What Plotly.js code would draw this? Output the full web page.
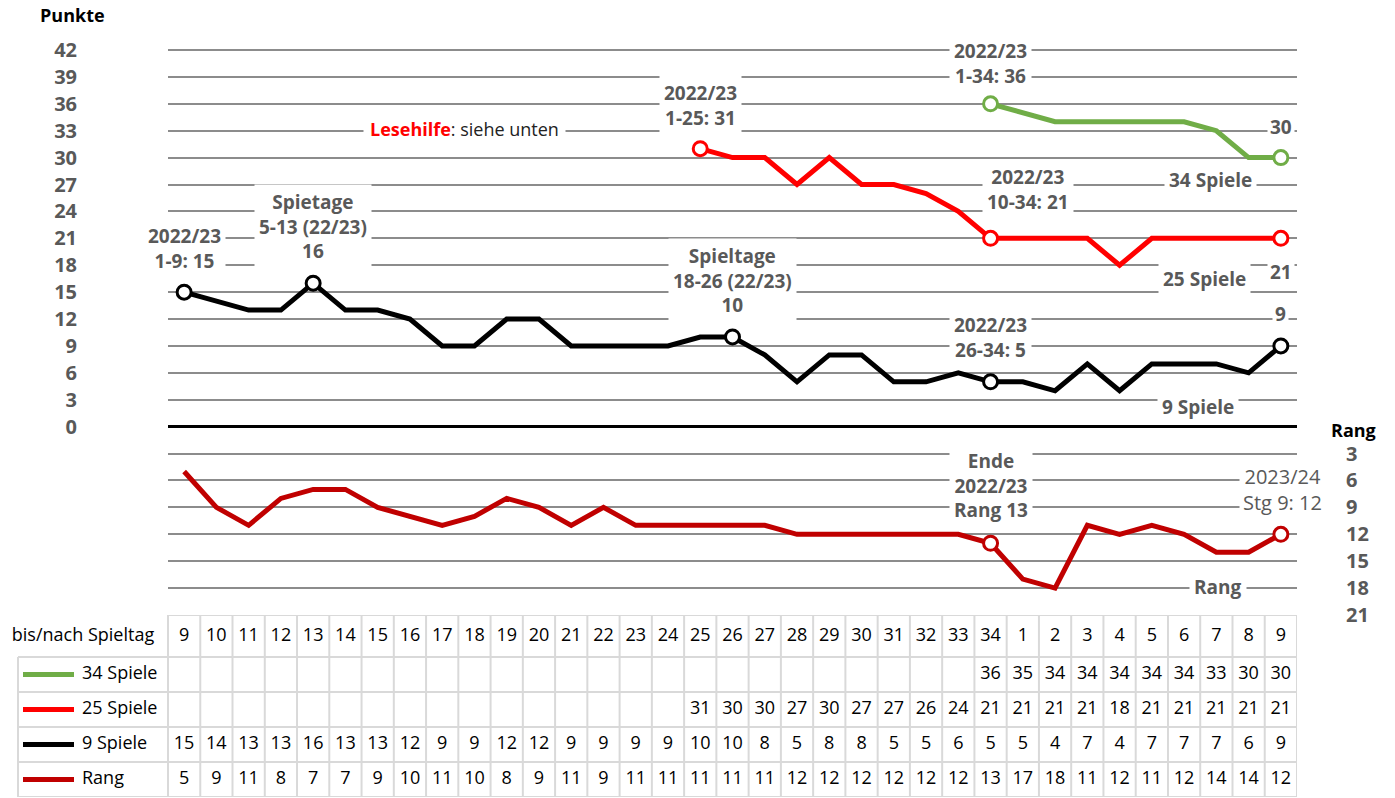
<!DOCTYPE html>
<html><head><meta charset="utf-8">
<script src="https://cdn.plot.ly/plotly-3.0.1.min.js"></script>
<style>html,body{margin:0;padding:0;background:#fff}#chart{width:1395px;height:798px}</style>
</head><body><div id="chart"></div>
<script>
// ---- data ----
const spieltag = ['9','10','11','12','13','14','15','16','17','18','19','20','21','22','23','24','25','26','27','28','29','30','31','32','33','34','1','2','3','4','5','6','7','8','9'];
const spiele34 = [null,null,null,null,null,null,null,null,null,null,null,null,null,null,null,null,null,null,null,null,null,null,null,null,null,36,35,34,34,34,34,34,33,30,30];
const spiele25 = [null,null,null,null,null,null,null,null,null,null,null,null,null,null,null,null,31,30,30,27,30,27,27,26,24,21,21,21,21,18,21,21,21,21,21];
const spiele9  = [15,14,13,13,16,13,13,12,9,9,12,12,9,9,9,9,10,10,8,5,8,8,5,5,6,5,5,4,7,4,7,7,7,6,9];
const rang     = [5,9,11,8,7,7,9,10,11,10,8,9,11,9,11,11,11,11,11,12,12,12,12,12,12,13,17,18,11,12,11,12,14,14,12];
const seriesNames = ['34 Spiele','25 Spiele','9 Spiele','Rang'];
const highlight34 = [25,34];
const highlight25 = [16,25,34];
const highlight9  = [0,4,17,25,34];
const highlightRang = [25,34];
const punkteTicks = [0,3,6,9,12,15,18,21,24,27,30,33,36,39,42];
const rangGrid = [-18,-15,-12,-9,-6,-3];
const rangTicks = [3,6,9,12,15,18,21];
const headerLabel = 'bis/nach Spieltag';

// ---- styles ----
const FONT = 'Open Sans, Noto Sans, sans-serif';
const colors = ['#70ad47','#ff0000','#000000','#c00000'];
const series = [spiele34, spiele25, spiele9, rang];
const highlights = [highlight34, highlight25, highlight9, highlightRang];
const idx = spieltag.map((_, i) => i);

const W = 1395, H = 798, T = 48, B = 1;
const plotH = H - T - B;
const xL = 168, xR = 1297;
const cw = (xR - xL) / spieltag.length;
const x2Left = -0.5 - xL / cw;
const px2x = px => x2Left + px / cw;
const tableH = 182;
const rowEdges = [0, 42, 77, 112, 147, 182];
const unitPx = (615 - 50) / 63;
const yTop = 42 + (50 - T) / unitPx;
const pyPaper = py => (H - B - py) / plotH;

const traces = [];
series.forEach((s, k) => {
  traces.push({
    x: idx, y: s, mode: 'lines', type: 'scatter',
    yaxis: k === 3 ? 'y2' : 'y',
    line: {color: colors[k], width: 5},
    hoverinfo: 'skip', showlegend: false
  });
});
series.forEach((s, k) => {
  traces.push({
    x: highlights[k], y: highlights[k].map(i => s[i]), mode: 'markers', type: 'scatter',
    yaxis: k === 3 ? 'y2' : 'y',
    marker: {size: 14, color: '#ffffff', line: {color: colors[k], width: 3}},
    hoverinfo: 'skip', showlegend: false
  });
});
// table header row
traces.push({
  x: idx, y: idx.map(() => 21), text: spieltag, mode: 'text', type: 'scatter',
  xaxis: 'x2', yaxis: 'y3', textposition: 'middle center',
  textfont: {family: FONT, size: 18, color: '#000'}, hoverinfo: 'skip', showlegend: false
});
traces.push({
  x: [px2x(83)], y: [21], text: [headerLabel], mode: 'text', type: 'scatter',
  xaxis: 'x2', yaxis: 'y3', textposition: 'middle center',
  textfont: {family: FONT, size: 18, color: '#000'}, hoverinfo: 'skip', showlegend: false
});
series.forEach((s, k) => {
  const yc = (rowEdges[k + 1] + rowEdges[k + 2]) / 2;
  traces.push({
    x: idx, y: idx.map(() => yc), text: s.map(v => v == null ? '' : String(v)),
    mode: 'text', type: 'scatter', xaxis: 'x2', yaxis: 'y3', textposition: 'middle center',
    textfont: {family: FONT, size: 18, color: '#000'}, hoverinfo: 'skip', showlegend: false
  });
  traces.push({
    x: [px2x(23), px2x(74)], y: [yc, yc], mode: 'lines', type: 'scatter',
    xaxis: 'x2', yaxis: 'y3', line: {color: colors[k], width: 5},
    hoverinfo: 'skip', showlegend: false
  });
  traces.push({
    x: [px2x(82)], y: [yc], text: [seriesNames[k]], mode: 'text', type: 'scatter',
    xaxis: 'x2', yaxis: 'y3', textposition: 'middle right',
    textfont: {family: FONT, size: 18, color: '#000'}, hoverinfo: 'skip', showlegend: false
  });
});

// table grid shapes
const gridC = '#d9d9d9';
const shapes = [];
shapes.push({type: 'line', xref: 'x2', yref: 'y3', x0: -0.5, x1: spieltag.length - 0.5, y0: 0, y1: 0, line: {color: gridC, width: 2}});
rowEdges.slice(1).forEach(r => shapes.push({type: 'line', xref: 'x2', yref: 'y3', x0: px2x(18), x1: spieltag.length - 0.5, y0: r, y1: r, line: {color: gridC, width: 2}}));
for (let i = 0; i <= spieltag.length; i++) {
  shapes.push({type: 'line', xref: 'x2', yref: 'y3', x0: i - 0.5, x1: i - 0.5, y0: 0, y1: tableH, line: {color: gridC, width: 2}});
}
shapes.push({type: 'line', xref: 'x2', yref: 'y3', x0: px2x(18), x1: px2x(18), y0: 42, y1: tableH, line: {color: gridC, width: 2}});

const gray = '#595959';
const ann = (x, y, text, extra) => Object.assign({
  x, y, xref: 'x', yref: 'y', text: '<b>' + text + '</b>', showarrow: false,
  xanchor: 'center', yanchor: 'middle',
  bgcolor: '#ffffff', borderpad: 4,
  font: {family: FONT, size: 19, color: gray}
}, extra || {});

const annotations = [
  ann(0, 19.9, '2022/23<br>1-9: 15'),
  ann(4, 22.3, 'Spietage<br>5-13 (22/23)<br>16'),
  ann(16, 35.8, '2022/23<br>1-25: 31'),
  ann(17, 16.3, 'Spieltage<br>18-26 (22/23)<br>10'),
  ann(25, 9.9, '2022/23<br>26-34: 5'),
  ann(26.16, 26.5, '2022/23<br>10-34: 21'),
  ann(25, 40.5, '2022/23<br>1-34: 36'),
  ann(34, 33.4, '30', {borderpad: 2}),
  ann(31.83, 27.5, '34 Spiele'),
  ann(31.62, 16.5, '25 Spiele'),
  ann(34, 17.3, '21', {borderpad: 2}),
  ann(34, 12.6, '9', {borderpad: 2}),
  ann(31.43, 2.2, '9 Spiele'),
  ann(25, -6.6, 'Ende<br>2022/23<br>Rang 13'),
  ann(32.05, -17.9, 'Rang'),
  {x: 32.7, y: -7.0, xref: 'x', yref: 'y', xanchor: 'left', yanchor: 'middle', text: '2023/24<br>Stg 9: 12', showarrow: false,
   bgcolor: '#ffffff', borderpad: 3, font: {family: FONT, size: 20, color: gray}},
  {x: 8.68, y: 33.2, xref: 'x', yref: 'y', xanchor: 'center', yanchor: 'middle',
   text: '<b><span style="color:#ff0000">Lesehilfe</span></b>: siehe unten',
   showarrow: false, bgcolor: '#ffffff', borderpad: 6, font: {family: FONT, size: 18, color: '#222'}},
  {x: 72 / W, y: pyPaper(15), xref: 'paper', yref: 'paper', xanchor: 'center', yanchor: 'middle',
   text: '<b>Punkte</b>', showarrow: false, font: {family: FONT, size: 18, color: '#000'}},
  {x: 1353 / W, y: pyPaper(430), xref: 'paper', yref: 'paper', xanchor: 'center', yanchor: 'middle',
   text: '<b>Rang</b>', showarrow: false, font: {family: FONT, size: 18, color: '#000'}}
];

const yVals = rangGrid.concat(punkteTicks);
const yText = yVals.map(v => v < 0 ? '' : String(v));
const mainBottom = tableH / plotH;

const layout = {
  width: W, height: H,
  margin: {l: 0, r: 0, t: T, b: B, pad: 0},
  paper_bgcolor: '#ffffff', plot_bgcolor: '#ffffff',
  showlegend: false, hovermode: false,
  xaxis: {domain: [xL / W, xR / W], range: [-0.5, spieltag.length - 0.5], anchor: 'y',
          showgrid: false, zeroline: false, showticklabels: false, showline: false, ticks: ''},
  yaxis: {domain: [mainBottom, 1], range: [-21, yTop], anchor: 'x',
          tickmode: 'array', tickvals: yVals, ticktext: yText,
          showgrid: true, gridcolor: '#8c8c8c', gridwidth: 2,
          zeroline: true, zerolinecolor: '#000000', zerolinewidth: 3,
          showline: false, ticks: 'outside', ticklen: 86, tickcolor: 'rgba(0,0,0,0)',
          tickfont: {family: FONT, size: 20, color: gray, weight: 'bold'}},
  yaxis2: {overlaying: 'y', side: 'right', anchor: 'x', range: [21, -yTop],
           tickmode: 'array', tickvals: rangTicks, ticktext: rangTicks.map(String),
           showgrid: false, zeroline: false, showline: false,
           ticks: 'outside', ticklen: 44, tickcolor: 'rgba(0,0,0,0)',
           tickfont: {family: FONT, size: 20, color: gray, weight: 'bold'}},
  xaxis2: {domain: [0, xR / W], range: [x2Left, spieltag.length - 0.5], anchor: 'y3', visible: false},
  yaxis3: {domain: [0, mainBottom], range: [tableH, 0], anchor: 'x2', visible: false},
  shapes, annotations
};

Plotly.newPlot('chart', traces, layout, {displayModeBar: false, staticPlot: true});
</script>
</body></html>
